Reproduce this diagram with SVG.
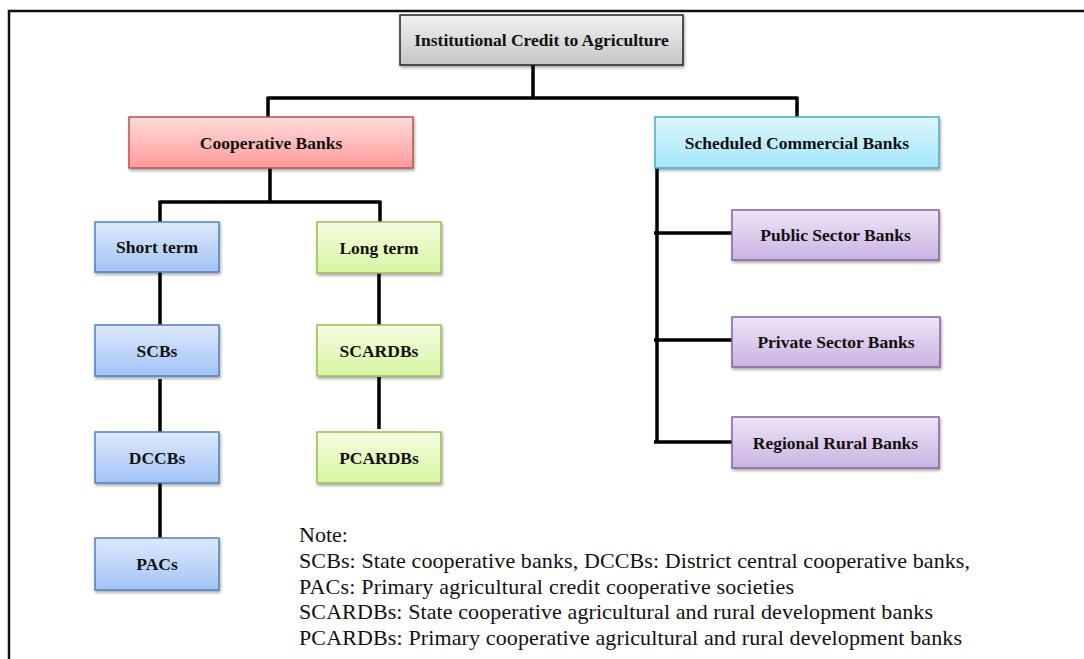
<svg xmlns="http://www.w3.org/2000/svg" width="1084" height="659" viewBox="0 0 1084 659">
<style>
.lbl{font-family:"Liberation Serif","Times New Roman",serif;font-weight:bold;font-size:17.5px;fill:#111;text-anchor:middle;dominant-baseline:central}
.note{font-family:"Liberation Serif","Times New Roman",serif;font-size:22px;fill:#111}
.ln{stroke:#000;stroke-width:3.5;fill:none}
.frame{stroke:#111;stroke-width:2.5;fill:none}
</style>
<defs>
<linearGradient id="gGray" x1="0" y1="0" x2="0" y2="1"><stop offset="0" stop-color="#f2f2f2"/><stop offset="1" stop-color="#c6c6c6"/></linearGradient>
<linearGradient id="gRed" x1="0" y1="0" x2="0" y2="1"><stop offset="0" stop-color="#ffdcdc"/><stop offset="1" stop-color="#ff9a9a"/></linearGradient>
<linearGradient id="gBlue" x1="0" y1="0" x2="0" y2="1"><stop offset="0" stop-color="#dde9fc"/><stop offset="1" stop-color="#a2c3f6"/></linearGradient>
<linearGradient id="gGreen" x1="0" y1="0" x2="0" y2="1"><stop offset="0" stop-color="#f6fde2"/><stop offset="1" stop-color="#d6f5a0"/></linearGradient>
<linearGradient id="gCyan" x1="0" y1="0" x2="0" y2="1"><stop offset="0" stop-color="#ddf6fc"/><stop offset="1" stop-color="#a3e6f9"/></linearGradient>
<linearGradient id="gPurple" x1="0" y1="0" x2="0" y2="1"><stop offset="0" stop-color="#eee5f7"/><stop offset="1" stop-color="#c9b3e2"/></linearGradient>
<filter id="sh" x="-10%" y="-20%" width="120%" height="150%"><feDropShadow dx="1" dy="2" stdDeviation="1.5" flood-color="#000" flood-opacity="0.35"/></filter>
</defs>
<rect width="1084" height="659" fill="#fff"/>
<g id="frame"><path class="frame" d="M9,659 V11 H1084"/></g>
<g id="connectors">
<path class="ln" d="M533,65 V98 M268,98 H797 M268,96.5 V117 M797,96.5 V117"/>
<path class="ln" d="M270,168 V202 M160,202 H380 M160,200.5 V222 M380,200.5 V222"/>
<path class="ln" d="M160,272 V325 M160,379 V432 M160,483 V538"/>
<path class="ln" d="M379,273 V325 M379,377 V429"/>
<path class="ln" d="M657,168 V442 M654,233 H732 M654,340 H732 M654,442 H732"/>
</g>
<g id="n-top"><rect x="400" y="15" width="283" height="50" fill="url(#gGray)" stroke="#222" stroke-width="1.5" filter="url(#sh)"/><text class="lbl" x="541.5" y="40">Institutional Credit to Agriculture</text></g>
<g id="n-coop"><rect x="129" y="117" width="284" height="51" fill="url(#gRed)" stroke="#c0504d" stroke-width="1.5" filter="url(#sh)"/><text class="lbl" x="271" y="142.5">Cooperative Banks</text></g>
<g id="n-scb"><rect x="655" y="117" width="284" height="51" fill="url(#gCyan)" stroke="#4bacc6" stroke-width="1.5" filter="url(#sh)"/><text class="lbl" x="797" y="142.5">Scheduled Commercial Banks</text></g>
<g id="n-short"><rect x="95" y="222" width="124" height="50" fill="url(#gBlue)" stroke="#4f81bd" stroke-width="1.5" filter="url(#sh)"/><text class="lbl" x="157" y="247">Short term</text></g>
<g id="n-long"><rect x="317" y="222" width="124" height="51" fill="url(#gGreen)" stroke="#9bbb59" stroke-width="1.5" filter="url(#sh)"/><text class="lbl" x="379" y="247.5">Long term</text></g>
<g id="n-scbs"><rect x="95" y="325" width="124" height="51" fill="url(#gBlue)" stroke="#4f81bd" stroke-width="1.5" filter="url(#sh)"/><text class="lbl" x="157" y="350.5">SCBs</text></g>
<g id="n-dccbs"><rect x="95" y="432" width="124" height="51" fill="url(#gBlue)" stroke="#4f81bd" stroke-width="1.5" filter="url(#sh)"/><text class="lbl" x="157" y="457.5">DCCBs</text></g>
<g id="n-pacs"><rect x="95" y="538" width="124" height="52" fill="url(#gBlue)" stroke="#4f81bd" stroke-width="1.5" filter="url(#sh)"/><text class="lbl" x="157" y="564">PACs</text></g>
<g id="n-scardbs"><rect x="317" y="325" width="124" height="51" fill="url(#gGreen)" stroke="#9bbb59" stroke-width="1.5" filter="url(#sh)"/><text class="lbl" x="379" y="350.5">SCARDBs</text></g>
<g id="n-pcardbs"><rect x="317" y="432" width="124" height="51" fill="url(#gGreen)" stroke="#9bbb59" stroke-width="1.5" filter="url(#sh)"/><text class="lbl" x="379" y="457.5">PCARDBs</text></g>
<g id="n-public"><rect x="732" y="210" width="207" height="50" fill="url(#gPurple)" stroke="#8064a2" stroke-width="1.5" filter="url(#sh)"/><text class="lbl" x="835.5" y="235">Public Sector Banks</text></g>
<g id="n-private"><rect x="732" y="317" width="208" height="50" fill="url(#gPurple)" stroke="#8064a2" stroke-width="1.5" filter="url(#sh)"/><text class="lbl" x="836" y="342">Private Sector Banks</text></g>
<g id="n-rrb"><rect x="732" y="417" width="207" height="51" fill="url(#gPurple)" stroke="#8064a2" stroke-width="1.5" filter="url(#sh)"/><text class="lbl" x="835.5" y="442.5">Regional Rural Banks</text></g>
<g id="note">
<text class="note" x="299" y="542">Note:</text>
<text class="note" x="299" y="568" textLength="671" lengthAdjust="spacing">SCBs: State cooperative banks, DCCBs: District central cooperative banks,</text>
<text class="note" x="299" y="594" textLength="495" lengthAdjust="spacing">PACs: Primary agricultural credit cooperative societies</text>
<text class="note" x="299" y="619" textLength="634" lengthAdjust="spacing">SCARDBs: State cooperative agricultural and rural development banks</text>
<text class="note" x="299" y="645" textLength="663" lengthAdjust="spacing">PCARDBs: Primary cooperative agricultural and rural development banks</text>
</g>
</svg>
